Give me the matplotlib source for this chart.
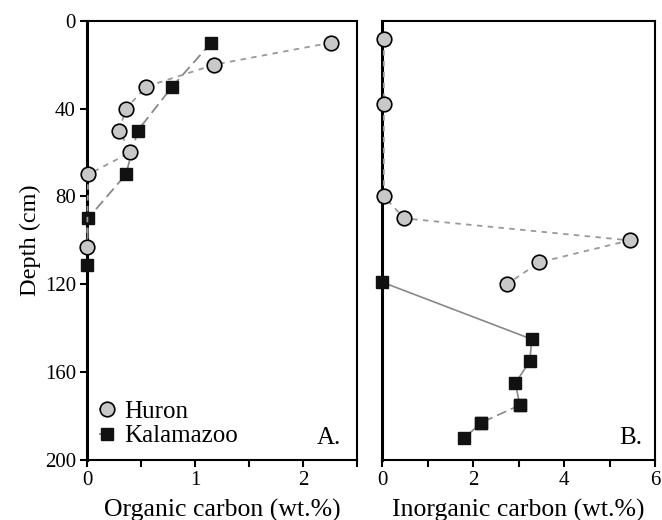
import matplotlib.pyplot as plt
from matplotlib.ticker import MultipleLocator

# Panel A: organic carbon
huron_org_depth = [10, 20, 30, 40, 50, 60, 70, 103]
huron_org = [2.26, 1.18, 0.55, 0.36, 0.30, 0.40, 0.01, 0.0]
kal_org_depth = [10, 30, 50, 70, 90, 111]
kal_org = [1.15, 0.79, 0.47, 0.36, 0.01, 0.0]

# Panel B: inorganic carbon
huron_inorg_depth = [8.5, 38, 80, 90, 100, 110, 120]
huron_inorg = [0.04, 0.04, 0.04, 0.49, 5.44, 3.46, 2.74]
kal_inorg_depth = [119, 145, 155, 165, 175, 183, 190]
kal_inorg = [0.0, 3.29, 3.25, 2.93, 3.03, 2.18, 1.81]

plt.rcParams['font.family'] = ['Liberation Serif', 'DejaVu Serif']

fig = plt.figure(figsize=(6.62, 5.20), dpi=100)
W, H = 662, 520
axA = fig.add_axes([87 / W, 1 - 460 / H, 270 / W, 439.3 / H])
axB = fig.add_axes([382 / W, 1 - 460 / H, 273 / W, 439.3 / H])

circ = dict(marker='o', markersize=10.5, markerfacecolor='#c8c8c8',
            markeredgecolor='black', markeredgewidth=1.2, clip_on=False)
sq = dict(marker='s', markersize=8.5, markerfacecolor='#111111',
          markeredgecolor='#111111', clip_on=False)

# panel A
axA.plot(kal_org, kal_org_depth, color='#888888', lw=1.3, ls=(0, (6, 3)),
         **sq, label='Kalamazoo', zorder=3)
axA.plot(huron_org, huron_org_depth, color='#999999', lw=1.3, ls=(0, (3, 3)),
         **circ, label='Huron', zorder=4)

# panel B
axB.plot(huron_inorg, huron_inorg_depth, color='#999999', lw=1.3,
         ls=(0, (3, 3)), **circ, zorder=4)
axB.plot(kal_inorg[:5], kal_inorg_depth[:5], color='#888888', lw=1.2,
         ls='-', **sq, zorder=3)
axB.plot(kal_inorg[4:6], kal_inorg_depth[4:6], color='#888888', lw=1.2,
         ls=(0, (6, 3)), **sq, zorder=3)
axB.plot(kal_inorg[5:], kal_inorg_depth[5:], color='#888888', lw=1.2,
         ls='-', **sq, zorder=3)

for ax in (axA, axB):
    ax.set_ylim(200, 0)
    ax.yaxis.set_major_locator(MultipleLocator(40))
    for s in ax.spines.values():
        s.set_linewidth(1.5)
    ax.spines['left'].set_linewidth(2.2)
    ax.tick_params(direction='out', length=5, width=1.5, labelsize=15,
                   pad=3)
    ax.tick_params(which='minor', direction='out', length=5, width=1.5)

axA.set_xlim(0, 2.5)
axA.xaxis.set_major_locator(MultipleLocator(1))
axA.xaxis.set_minor_locator(MultipleLocator(0.5))
axA.set_xlabel('Organic carbon (wt.%)', fontsize=18.5, labelpad=6)
axA.set_ylabel('Depth (cm)', fontsize=17.5, labelpad=3)

axB.set_xlim(0, 6)
axB.xaxis.set_major_locator(MultipleLocator(2))
axB.xaxis.set_minor_locator(MultipleLocator(1))
axB.set_yticklabels([])
axB.tick_params(axis='y', length=0)
axB.set_xlabel('Inorganic carbon (wt.%)', fontsize=18.5, labelpad=6)

h, l = axA.get_legend_handles_labels()
leg = axA.legend(h[::-1], l[::-1], loc='lower left', frameon=False,
                 fontsize=18, handlelength=0.6, handletextpad=0.4,
                 borderaxespad=0.2, borderpad=0.3, labelspacing=0.1)

axA.text(0.94, 0.025, 'A.', transform=axA.transAxes, ha='right',
         va='bottom', fontsize=18)
axB.text(0.955, 0.025, 'B.', transform=axB.transAxes, ha='right',
         va='bottom', fontsize=18)

fig.savefig('out.png', dpi=100)
